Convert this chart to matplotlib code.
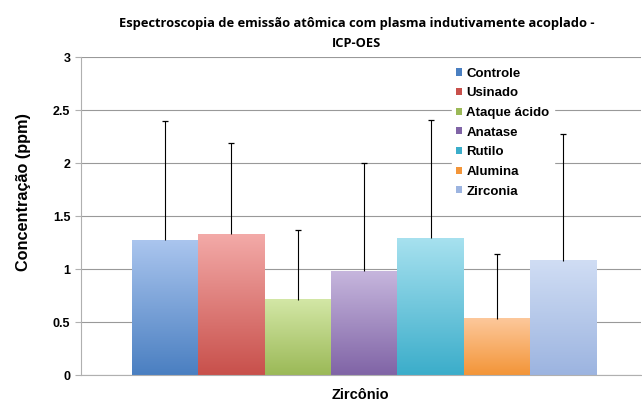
import matplotlib
matplotlib.use("Agg")
import matplotlib.pyplot as plt
import numpy as np
from matplotlib.colors import LinearSegmentedColormap
from matplotlib.patches import Patch

categories = ["Controle", "Usinado", "Ataque ácido", "Anatase", "Rutilo", "Alumina", "Zirconia"]
values = [1.27, 1.33, 0.71, 0.98, 1.29, 0.53, 1.08]
errors = [1.13, 0.86, 0.66, 1.02, 1.12, 0.61, 1.19]
top_colors = ["#aac5ee", "#f3aaa8", "#d3e7a6", "#c6b6dd", "#a7e1ef", "#fdc89b", "#d0ddf4"]
bottom_colors = ["#4a7fc1", "#c8504b", "#9bb957", "#8064a6", "#3badca", "#f39538", "#9cb4e0"]
xlabel = "Zircônio"
ylabel = "Concentração (ppm)"
title = "Espectroscopia de emissão atômica com plasma indutivamente acoplado -\nICP-OES"

fig = plt.figure(figsize=(6.42, 4.05), dpi=100)
ax = fig.add_axes([0.126, 0.074, 0.872, 0.785])

x = np.arange(len(categories))
width = 1.0
grad = np.linspace(0, 1, 256).reshape(-1, 1)
vals = np.array(values)
errs = np.array(errors)
for i, (v, c0, c1) in enumerate(zip(values, top_colors, bottom_colors)):
    cmap = LinearSegmentedColormap.from_list(f"g{i}", [c1, c0])
    ax.imshow(grad, extent=[x[i] - width / 2, x[i] + width / 2, 0, v], origin="lower",
              cmap=cmap, aspect="auto", zorder=2)
ax.vlines(x, vals, vals + errs, colors="black", linewidth=0.8, zorder=3)
ax.scatter(x, vals + errs, marker="_", s=22, color="black", linewidths=0.9, zorder=3)

ax.set_xlim(-1.268, 7.163)
ax.set_ylim(0, 3)
ax.set_yticks([0, 0.5, 1, 1.5, 2, 2.5, 3])
ax.set_yticklabels(["0", "0.5", "1", "1.5", "2", "2.5", "3"])
ax.set_xticks([])
ax.yaxis.grid(True, color="#999999", linewidth=0.8, zorder=0)
ax.set_axisbelow(True)
for s in ["top", "right"]:
    ax.spines[s].set_visible(False)
ax.spines["left"].set_color("#b0b0b0")
ax.spines["bottom"].set_color("#b0b0b0")
ax.tick_params(axis="y", colors="#b0b0b0", length=4, width=0.8, labelcolor="black", labelsize=9)
for lab in ax.get_yticklabels():
    lab.set_fontweight("bold")
    lab.set_family("Liberation Sans")

ax.set_ylabel(ylabel, fontsize=11.7, fontweight="bold", family="Liberation Sans", labelpad=12)
ax.yaxis.set_label_coords(-0.09, 0.575)
ax.set_xlabel(xlabel, fontsize=10.5, fontweight="bold", family="Liberation Sans", labelpad=9)
fig.suptitle(title, x=0.556, y=0.958, fontsize=9.3, fontweight="bold", family="Open Sans", linespacing=1.65)

handles = [Patch(facecolor=c, edgecolor="none") for c in bottom_colors]
leg = ax.legend(handles, categories, loc="upper left", bbox_to_anchor=(0.651, 1.0),
                frameon=True, framealpha=1, edgecolor="white", fancybox=False,
                handlelength=0.45, handleheight=0.45, handletextpad=0.35,
                labelspacing=0.58, borderpad=0.3,
                prop={"family": "Liberation Sans", "weight": "bold", "size": 9.5})
leg.set_zorder(5)

fig.savefig("out.png", dpi=100)
